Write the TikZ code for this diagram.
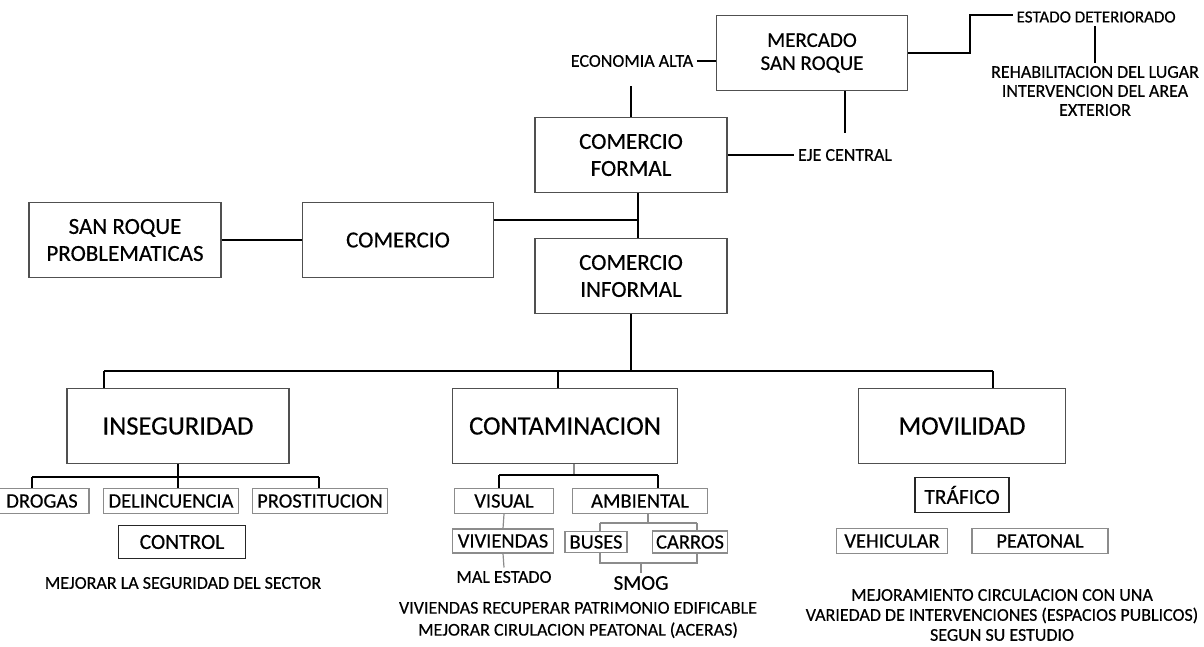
\documentclass[tikz,border=0pt]{standalone}
\usepackage{fontspec}
\setmainfont{Carlito}[FakeBold=0.4]
\usepackage{xcolor}
\definecolor{boxgray}{HTML}{505050}
\definecolor{linegray}{HTML}{8C8C8C}
\usepackage{tikz}

\begin{document}
\begin{tikzpicture}[x=1pt,y=-1pt,line width=1.2pt]
       \tikzstyle{bx}=[draw=boxgray,line width=1.3pt,minimum height=75pt,align=center,font=\fontsize{23}{27}\selectfont]
       \tikzstyle{big}=[bx,font=\fontsize{26.5}{30}\selectfont]
       \tikzstyle{sb}=[draw=linegray,line width=1.2pt,minimum height=25pt,inner sep=2pt,font=\fontsize{20.5}{24}\selectfont]
       \tikzstyle{cb}=[draw=black!85,line width=1.7pt,inner sep=2pt,font=\fontsize{21.5}{24}\selectfont]
       \tikzstyle{lb}=[inner sep=3pt,align=center,font=\fontsize{18}{22}\selectfont]
       \tikzstyle{gl}=[draw=linegray]

       \useasboundingbox (0,0) rectangle (1204,646);

       % upper part
       \node[bx]  (MS) [minimum width=191pt,font=\fontsize{21}{23}\selectfont] at (812,53) {MERCADO\\SAN ROQUE};
       \node[bx]  (CF) [minimum width=192pt] at (631,155) {COMERCIO\\FORMAL};
       \node[bx]  (CI) [minimum width=192pt] at (631,276) {COMERCIO\\INFORMAL};
       \node[bx]  (CO) [minimum width=191pt] at (398,240) {COMERCIO};
       \node[bx]  (SR) [minimum width=192pt] at (125,240) {SAN ROQUE\\PROBLEMATICAS};
       \node[lb]  (EA) at (632,61) {ECONOMIA ALTA};
       \node[lb]  (EJ) at (845,155) {EJE CENTRAL};
       \node[lb]  (ED) [anchor=west,font=\fontsize{17}{20}\selectfont] at (1013,17) {ESTADO DETERIORADO};
       \node[lb]  (RH) [font=\fontsize{18}{19}\selectfont] at (1095,91) {REHABILITACION DEL LUGAR\\INTERVENCION DEL AREA\\EXTERIOR};

       % three problems
       \node[big] (IN) [minimum width=222pt] at (178,426) {INSEGURIDAD};
       \node[big] (CT) [minimum width=225pt] at (565,426) {CONTAMINACION};
       \node[big] (MV) [minimum width=207pt] at (962,426) {MOVILIDAD};

       \coordinate (k1) at (970,15);
       \coordinate (j1) at (638,220);
       \coordinate (b1) at (104,371);
       \coordinate (b2) at (558,371);
       \coordinate (b3) at (993,371);

       \draw (EA.east) -- (EA.east -| MS.west);
       \draw[shorten >=15pt] (CF.north) -- (CF.north |- EA.south);
       \draw[shorten >=13pt] (EJ.north |- MS.south) -- (EJ.north);
       \draw (MS.east) -| (k1) -- (k1 -| ED.west);
       \draw (RH.north |- ED.south) -- (RH.north);
       \draw (CF.east) -- (CF.east -| EJ.west);
       \draw (j1 |- CF.south) -- (j1 |- CI.north);
       \draw (CO.east |- j1) -- (j1);
       \draw (SR.east) -- (CO.west);
       \draw (CI.south) -- (CI.south |- b1);
       \draw (b1) -- (b3);
       \draw (b1) -- (b1 |- IN.north);
       \draw (b2) -- (b2 |- CT.north);
       \draw (b3) -- (b3 |- MV.north);

       % inseguridad
       \node[sb] (DR) [minimum width=94pt] at (42,501) {DROGAS};
       \node[sb] (DL) [minimum width=135pt] at (171,501) {DELINCUENCIA};
       \node[sb] (PR) [minimum width=135pt] at (320,501) {PROSTITUCION};
       \node[cb] (CN) [minimum width=127pt,minimum height=33pt] at (182,542) {CONTROL};
       \node[lb] (MJ) at (183,583) {MEJORAR LA SEGURIDAD DEL SECTOR};

       \coordinate (s1) at (32,477);
       \coordinate (s3) at (319,477);
       \draw (s1) -- (s3);
       \draw (IN.south) -- (IN.south |- s1);
       \draw (s1) -- (s1 |- DR.north);
       \draw (IN.south |- s1) -- (IN.south |- DL.north);
       \draw (s3) -- (s3 |- PR.north);

       % contaminacion
       \node[sb] (VS) [minimum width=99pt] at (504,501) {VISUAL};
       \node[sb] (AM) [minimum width=135pt] at (640,501) {AMBIENTAL};
       \node[sb] (VV) [minimum width=101pt,minimum height=24pt] at (503,541) {VIVIENDAS};
       \node[sb] (BU) [minimum width=62pt,minimum height=21pt] at (596,542) {BUSES};
       \node[sb] (CR) [minimum width=75pt,minimum height=22pt] at (690,542) {CARROS};
       \node[lb] (ME) at (504,577) {MAL ESTADO};
       \node[lb] (SM) [font=\fontsize{21}{24}\selectfont] at (641,583) {SMOG};
       \node[lb] (VR) at (578,620) {VIVIENDAS RECUPERAR PATRIMONIO EDIFICABLE\\MEJORAR CIRULACION PEATONAL (ACERAS)};

       \coordinate (c0) at (574,475);
       \coordinate (c1) at (499,475);
       \coordinate (c2) at (658,475);
       \coordinate (a0) at (648,523);
       \coordinate (a1) at (600,523);
       \coordinate (a2) at (697,523);
       \coordinate (a3) at (600,563);
       \coordinate (a4) at (697,563);
       \draw[gl] (c0 |- CT.south) -- (c0);
       \draw (c1) -- (c2);
       \draw (c1) -- (c1 |- VS.north);
       \draw (c2) -- (c2 |- AM.north);
       \draw[gl] (VS.south) -- (VV.north);
       \draw[gl] (VV.south) -- (ME.north);
       \draw[gl] (a0 |- AM.south) -- (a0);
       \draw[gl] (a1) -- (a2);
       \draw[gl] (a1) -- (a1 |- BU.north);
       \draw[gl] (a2) -- (a2 |- CR.north);
       \draw[gl] (a3 |- BU.south) -- (a3) -- (a4) -- (a4 |- CR.south);
       \draw[gl] (SM.north |- a3) -- (SM.north);

       % movilidad
       \node[cb] (TR) [minimum width=94pt,minimum height=35pt] at (962,495) {TRÁFICO};
       \node[sb] (VH) [minimum width=111pt] at (892,541) {VEHICULAR};
       \node[sb] (PE) [minimum width=136pt] at (1040,541) {PEATONAL};
       \node[lb] (MC) [font=\fontsize{18}{20}\selectfont] at (1002,615) {MEJORAMIENTO CIRCULACION CON UNA\\VARIEDAD DE INTERVENCIONES (ESPACIOS PUBLICOS)\\SEGUN SU ESTUDIO};
\end{tikzpicture}
\end{document}
